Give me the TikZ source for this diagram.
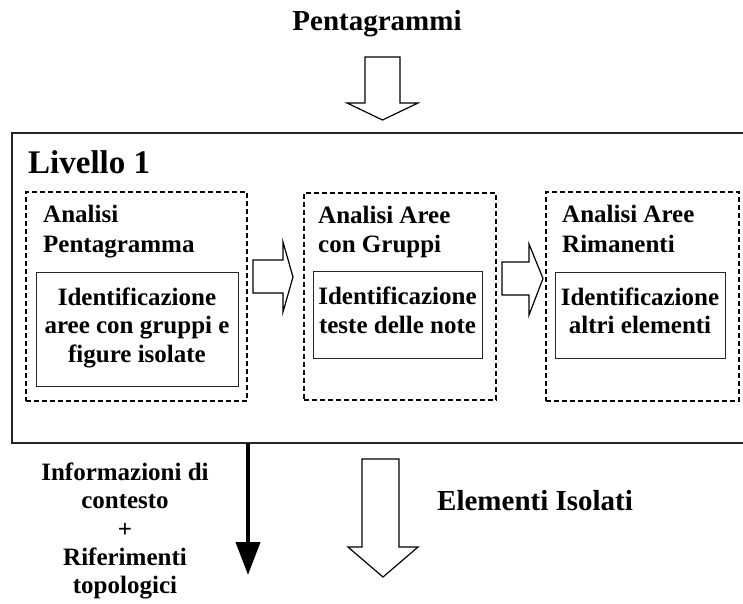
\documentclass[tikz,border=0pt]{standalone}
\usepackage{fontspec}
\setmainfont{Liberation Serif}
\usetikzlibrary{arrows.meta}
\begin{document}
\begin{tikzpicture}[x=1pt,y=-1pt,
  t25/.style={font=\bfseries\fontsize{25}{29}\selectfont, inner sep=0pt, anchor=base},
  t25l/.style={t25, anchor=base west},
  big/.style={font=\bfseries\fontsize{29}{33}\selectfont, inner sep=0pt},
  outerbox/.style={draw=black!85, line width=2pt},
  dashbox/.style={draw, line width=2pt, dash pattern=on 5pt off 3pt, inner sep=0pt, anchor=north west},
  solidbox/.style={draw=black!85, line width=1.4pt, inner sep=0pt, anchor=north west},
  hollow/.style={draw, line width=1.2pt, fill=white, line join=miter}
]
\useasboundingbox (0,0) rectangle (743,603);
\clip (0,0) rectangle (743,603);

% title
\node[big, anchor=base] (pent) at (377,30) {Pentagrammi};
% top hollow arrow
\draw[hollow] (365,57) -- (400,57) -- (400,103) -- (418,103) -- (382.5,120) -- (347,103) -- (365,103) -- cycle;

% outer level box
\draw[outerbox] (760,133) -- (12,133) -- (12,443) -- (760,443);
\node[font=\bfseries\fontsize{33}{37}\selectfont, inner sep=0pt, anchor=base west] (liv) at (28,173) {Livello 1};

% dashed boxes
\node[dashbox, minimum width=221pt, minimum height=209pt] (d1) at (25,191) {};
\node[dashbox, minimum width=192pt, minimum height=207pt] (d2) at (303,192) {};
\node[dashbox, minimum width=193pt, minimum height=209pt] (d3) at (545,191) {};

% inner solid boxes
\node[solidbox, minimum width=202pt, minimum height=114pt] (s1) at (36,272) {};
\node[solidbox, minimum width=169pt, minimum height=87pt] (s2) at (313,271) {};
\node[solidbox, minimum width=170pt, minimum height=86pt] (s3) at (555,272) {};

% box 1 texts
\node[t25l] (h1a) at (43,222) {Analisi};
\node[t25l] (h1b) at (43,252) {Pentagramma};
\node[t25] (i1a) at (137,305) {Identificazione};
\node[t25] (i1b) at (137,333) {aree con gruppi e};
\node[t25] (i1c) at (137,362) {figure isolate};

% box 2 texts
\node[t25l] (h2a) at (318,223) {Analisi Aree};
\node[t25l] (h2b) at (318,252) {con Gruppi};
\node[t25] (i2a) at (397.5,304) {Identificazione};
\node[t25] (i2b) at (397.5,333) {teste delle note};

% box 3 texts
\node[t25l] (h3a) at (562,222) {Analisi Aree};
\node[t25l] (h3b) at (562,252) {Rimanenti};
\node[t25] (i3a) at (640,305) {Identificazione};
\node[t25] (i3b) at (640,333) {altri elementi};

% hollow right arrows between boxes
\draw[hollow] (253,260) -- (283,260) -- (283,242) -- (293,277) -- (283,312) -- (283,293) -- (253,293) -- cycle;
\draw[hollow] (502,262) -- (529,262) -- (529,244) -- (543,278.5) -- (529,315) -- (529,295) -- (502,295) -- cycle;

% black arrow
\coordinate (ctxs) at (248,443);
\coordinate (ctxe) at (248,575);
\draw[line width=4pt, -{Triangle[length=33pt,width=24pt]}] (ctxs) -- (ctxe);

% bottom left texts
\node[t25] (b1) at (125,480) {Informazioni di};
\node[t25] (b2) at (125,508) {contesto};
\node[t25] (b3) at (125,537) {+};
\node[t25] (b4) at (125,565) {Riferimenti};
\node[t25] (b5) at (125,593) {topologici};

% bottom hollow arrow
\draw[hollow] (362,459) -- (399,459) -- (399,547) -- (418,547) -- (383,577) -- (348,547) -- (362,547) -- cycle;

\node[big, anchor=base west] (elem) at (437,510) {Elementi Isolati};
\end{tikzpicture}
\end{document}
